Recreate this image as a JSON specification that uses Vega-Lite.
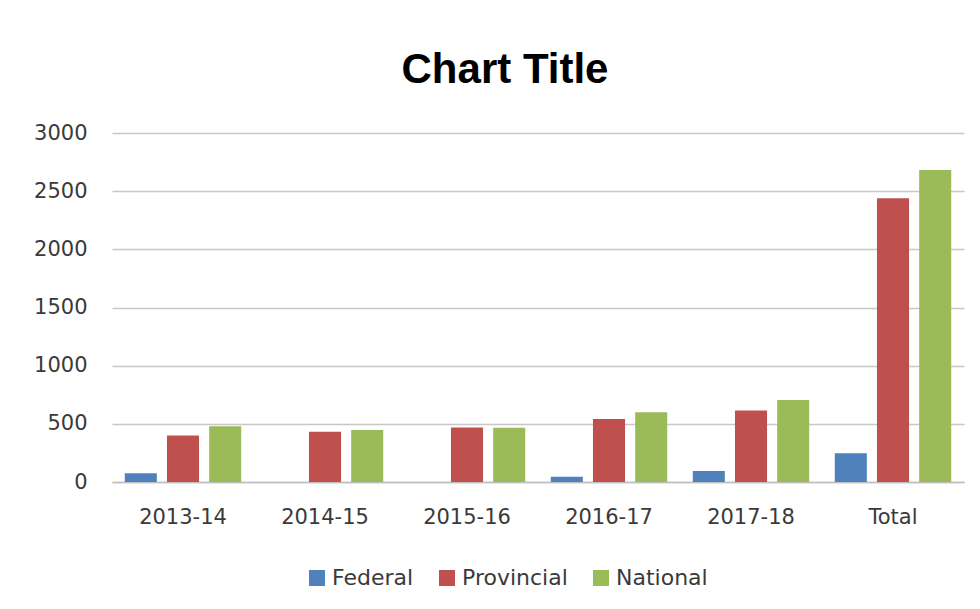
{
  "$schema": "https://vega.github.io/schema/vega-lite/v6.json",
  "width": 852,
  "height": 349,
  "autosize": "none",
  "padding": {"left": 112, "top": 133, "right": 16, "bottom": 127},
  "background": "white",
  "title": {
    "text": "Chart Title",
    "font": "Liberation Sans",
    "fontSize": 42,
    "fontWeight": "bold",
    "color": "#000000",
    "anchor": "middle",
    "dx": -33,
    "offset": 30
  },
  "data": {
    "values": [
      {"year": "2013-14", "series": "Federal", "value": 75},
      {"year": "2013-14", "series": "Provincial", "value": 400},
      {"year": "2013-14", "series": "National", "value": 480},
      {"year": "2014-15", "series": "Federal", "value": 0},
      {"year": "2014-15", "series": "Provincial", "value": 432},
      {"year": "2014-15", "series": "National", "value": 447},
      {"year": "2015-16", "series": "Federal", "value": 0},
      {"year": "2015-16", "series": "Provincial", "value": 468},
      {"year": "2015-16", "series": "National", "value": 466},
      {"year": "2016-17", "series": "Federal", "value": 46},
      {"year": "2016-17", "series": "Provincial", "value": 541},
      {"year": "2016-17", "series": "National", "value": 599},
      {"year": "2017-18", "series": "Federal", "value": 94},
      {"year": "2017-18", "series": "Provincial", "value": 614},
      {"year": "2017-18", "series": "National", "value": 704},
      {"year": "Total", "series": "Federal", "value": 248},
      {"year": "Total", "series": "Provincial", "value": 2440},
      {"year": "Total", "series": "National", "value": 2683}
    ]
  },
  "mark": {"type": "bar"},
  "encoding": {
    "x": {
      "field": "year",
      "type": "nominal",
      "sort": null,
      "scale": {"paddingInner": 0.18, "paddingOuter": 0.09},
      "axis": {
        "title": null,
        "labelAngle": 0,
        "ticks": false,
        "tickSize": 0,
        "labelPadding": 24,
        "labelFont": "DejaVu Sans",
        "labelFontSize": 21,
        "labelColor": "#3a3a3a",
        "domainColor": "#bfbfbf",
        "domainWidth": 1.5,
        "grid": false
      }
    },
    "xOffset": {
      "field": "series",
      "type": "nominal",
      "sort": ["Federal", "Provincial", "National"],
      "scale": {"paddingInner": 0.24, "paddingOuter": 0}
    },
    "y": {
      "field": "value",
      "type": "quantitative",
      "scale": {"domain": [0, 3000], "nice": false},
      "axis": {
        "title": null,
        "format": "d",
        "values": [0, 500, 1000, 1500, 2000, 2500, 3000],
        "ticks": false,
        "tickSize": 0,
        "domain": false,
        "labelPadding": 25,
        "labelFont": "DejaVu Sans",
        "labelFontSize": 21,
        "labelColor": "#3a3a3a",
        "gridColor": "#c8c8c8",
        "gridWidth": 1.5
      }
    },
    "color": {
      "field": "series",
      "type": "nominal",
      "sort": ["Federal", "Provincial", "National"],
      "scale": {
        "domain": ["Federal", "Provincial", "National"],
        "range": ["#4F81BD", "#C0504D", "#9BBB59"]
      },
      "legend": {
        "title": null,
        "orient": "none",
        "direction": "horizontal",
        "legendX": 194,
        "legendY": 434,
        "symbolType": "square",
        "symbolSize": 256,
        "symbolStrokeWidth": 0,
        "labelFont": "DejaVu Sans",
        "labelFontSize": 22,
        "labelColor": "#3a3a3a",
        "labelOffset": 4,
        "columnPadding": 22
      }
    }
  },
  "config": {
    "view": {"stroke": null}
  }
}
